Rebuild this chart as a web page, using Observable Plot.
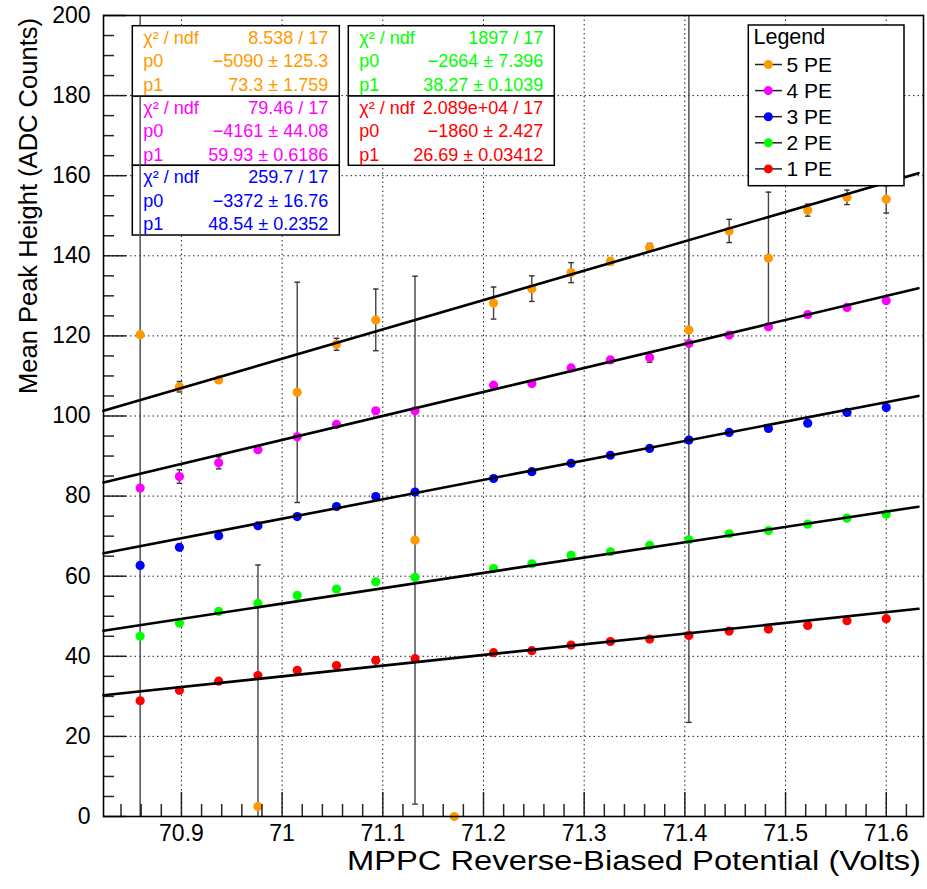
<!DOCTYPE html>
<html><head><meta charset="utf-8">
<script src="https://cdn.jsdelivr.net/npm/d3@7"></script>
<script src="https://cdn.jsdelivr.net/npm/@observablehq/plot@0.6"></script>
<style>body{margin:0;background:#fff} svg{display:block}</style>
</head><body><div id="chart"></div>
<script>
// ---- data ----
const voltage = [70.859, 70.898, 70.937, 70.976, 71.015, 71.054, 71.093, 71.132, 71.171, 71.210,
                 71.248, 71.287, 71.326, 71.365, 71.404, 71.444, 71.483, 71.522, 71.561, 71.600];
const pe5    = [120.3, 107.3, 109.0, 2.5, 105.9, 117.9, 124.0, 69.0, 0, 128.2,
                131.8, 135.8, 138.6, 142.1, 121.5, 146.2, 139.4, 151.4, 154.6, 154.1];
const pe5Err = [125, 1.3, 0.6, 60.3, 27.5, 1.5, 7.7, 65.9, 0, 4.0,
                3.2, 2.5, 0.8, 1.0, 98, 2.9, 16.5, 1.5, 1.8, 3.4];
const pe4    = [82.0, 84.9, 88.3, 91.6, 94.8, 97.9, 101.3, 101.3, null, 107.7,
                108.1, 112.0, 114.0, 114.6, 118.1, 120.2, 122.3, 125.3, 127.1, 128.8];
const pe4Err = [0.5, 1.7, 1.5, 0.4, 0.4, 0.4, 0.4, 0.4, null, 0.4,
                0.4, 0.4, 0.4, 1.2, 0.4, 0.4, 0.4, 0.4, 0.4, 0.4];
const pe3    = [62.7, 67.2, 70.1, 72.6, 74.9, 77.4, 79.9, 81.0, null, 84.4,
                86.1, 88.2, 90.2, 91.9, 94.0, 95.9, 96.9, 98.2, 100.9, 102.1];
const pe3Err = [0.3, 0.3, 0.2, 0.2, 0.2, 0.2, 0.2, 0.2, null, 0.2,
                0.2, 0.2, 0.2, 0.2, 0.2, 0.2, 0.2, 0.2, 0.2, 0.2];
const pe2    = [45.0, 48.3, 51.2, 53.2, 55.2, 56.8, 58.6, 59.7, null, 61.9,
                63.1, 65.2, 66.1, 67.7, 69.1, 70.6, 71.4, 73.0, 74.5, 75.5];
const pe2Err = [0.1, 0.1, 0.1, 0.1, 0.1, 0.1, 0.1, 0.1, null, 0.1,
                0.1, 0.1, 0.1, 0.1, 0.1, 0.1, 0.1, 0.1, 0.1, 0.1];
const pe1    = [28.9, 31.5, 33.8, 35.2, 36.5, 37.7, 39.0, 39.4, null, 40.9,
                41.4, 42.8, 43.7, 44.3, 45.2, 46.3, 46.8, 47.7, 48.9, 49.4];
const pe1Err = [0.05, 0.05, 0.05, 0.05, 0.05, 0.05, 0.05, 0.05, null, 0.05,
                0.05, 0.05, 0.05, 0.05, 0.05, 0.05, 0.05, 0.05, 0.05, 0.05];

const seriesNames  = ["5 PE", "4 PE", "3 PE", "2 PE", "1 PE"];
const seriesColors = ["#ff9900", "#ff00ff", "#0000ff", "#00ff00", "#ff0000"];
const chi2Text = ["8.538 / 17", "79.46 / 17", "259.7 / 17", "1897 / 17", "2.089e+04 / 17"];
const p0Text   = ["\u22125090 \u00b1 125.3", "\u22124161 \u00b1 44.08", "\u22123372 \u00b1 16.76", "\u22122664 \u00b1 7.396", "\u22121860 \u00b1 2.427"];
const p1Text   = ["73.3 \u00b1 1.759", "59.93 \u00b1 0.6186", "48.54 \u00b1 0.2352", "38.27 \u00b1 0.1039", "26.69 \u00b1 0.03412"];
const p0 = [-5090, -4161, -3372, -2664, -1860];
const p1 = [73.3, 59.93, 48.54, 38.27, 26.69];
const fitRange = [70.8226, 71.632];

const xDomain = [70.8226, 71.637];
const yDomain = [0, 200];
const xTickLabels = ["70.9", "71", "71.1", "71.2", "71.3", "71.4", "71.5", "71.6"];
const yTickLabels = ["0", "20", "40", "60", "80", "100", "120", "140", "160", "180", "200"];
const xTitle = "MPPC Reverse-Biased Potential (Volts)";
const yTitle = "Mean Peak Height (ADC Counts)";
const legendTitle = "Legend";

// ---- build tables ----
const values = [pe5, pe4, pe3, pe2, pe1];
const errors = [pe5Err, pe4Err, pe3Err, pe2Err, pe1Err];
const points = [];
values.forEach((arr, s) => arr.forEach((v, i) => {
  if (v != null) points.push({x: voltage[i], y: v, err: errors[s][i], series: seriesNames[s], color: seriesColors[s]});
}));
const errPts = points.filter(d => d.err > 0);
const caps = errPts.flatMap(d => [{x: d.x, y: d.y - d.err}, {x: d.x, y: d.y + d.err}]);
const fits = [];
seriesNames.forEach((n, s) => fitRange.forEach(x => fits.push({x, y: p0[s] + p1[s] * x, series: n})));

const xMajor = xTickLabels.map(Number);
const yMajor = yTickLabels.map(Number);
const xMinor = d3.range(70.84, 71.63, 0.02).map(v => +v.toFixed(2)).filter(v => !xMajor.some(m => Math.abs(m - v) < 1e-6));
const yMinor = d3.range(0, 201, 5).filter(v => v % 20 !== 0);

const FONT = "'Liberation Sans', Arial, Helvetica, sans-serif";
const W = 927, H = 889, ML = 103, MR = 4, MT = 15, MB = 73;
const PW = W - ML - MR, PH = H - MT - MB;

// ---- annotation boxes (fit statistics & legend) ----
const boxGeom = [
  {x: 132.3, y: 25.7, w: 207, h: 70.3},
  {x: 132.3, y: 96.0, w: 207, h: 69.3},
  {x: 132.3, y: 165.3, w: 207, h: 69.7},
  {x: 348.3, y: 25.7, w: 206, h: 70.3},
  {x: 348.3, y: 96.0, w: 206, h: 69.3}
];
function statBoxes(which) {
  return () => {
    const g = d3.create("svg:g").attr("font-family", FONT);
    for (const s of which) {
      const b = boxGeom[s];
      g.append("rect").attr("x", b.x).attr("y", b.y).attr("width", b.w).attr("height", b.h)
        .attr("fill", "#fff").attr("stroke", "#000").attr("stroke-width", 1.5);
      const rows = [["\u03c7\u00b2 / ndf", chi2Text[s]], ["p0", p0Text[s]], ["p1", p1Text[s]]];
      rows.forEach(([lab, val], r) => {
        const cy = b.y + 11.5 + r * 23.5;
        g.append("text").attr("x", b.x + 11).attr("y", cy).attr("dy", "0.35em").attr("text-anchor", "start")
          .attr("font-size", 18).attr("fill", seriesColors[s]).text(lab);
        g.append("text").attr("x", b.x + b.w - 11).attr("y", cy).attr("dy", "0.35em")
          .attr("text-anchor", "end").attr("font-size", 18).attr("fill", seriesColors[s]).text(val);
      });
    }
    return g.node();
  };
}
function legendBox() {
  const g = d3.create("svg:g").attr("font-family", FONT).attr("text-anchor", "start");
  g.append("rect").attr("x", 748.3).attr("y", 25).attr("width", 155.7).attr("height", 160.7)
    .attr("fill", "#fff").attr("stroke", "#000").attr("stroke-width", 1.5);
  g.append("text").attr("x", 753.5).attr("y", 44).attr("font-size", 21.5).attr("fill", "#000").text(legendTitle);
  seriesNames.forEach((n, s) => {
    const cy = 64.5 + s * 26.1;
    g.append("line").attr("x1", 755).attr("x2", 782).attr("y1", cy).attr("y2", cy)
      .attr("stroke", "#222").attr("stroke-width", 1.5);
    g.append("circle").attr("cx", 768.3).attr("cy", cy).attr("r", 4.5).attr("fill", seriesColors[s]);
    g.append("text").attr("x", 786.5).attr("y", cy).attr("dy", "0.36em").attr("font-size", 21)
      .attr("fill", "#000").text(n);
  });
  return g.node();
}
function axisTitles() {
  const g = d3.create("svg:g").attr("font-family", FONT).attr("fill", "#000");
  g.append("text").attr("x", 347).attr("y", 870).attr("text-anchor", "start")
    .attr("font-size", 27).attr("textLength", 574).attr("lengthAdjust", "spacingAndGlyphs").text(xTitle);
  g.append("text").attr("transform", "translate(37,394) rotate(-90)").attr("text-anchor", "start")
    .attr("font-size", 26.5).attr("textLength", 376).attr("lengthAdjust", "spacingAndGlyphs").text(yTitle);
  return g.node();
}

const capSymbol = {draw(ctx, size) { const r = Math.sqrt(size / Math.PI); ctx.moveTo(-r, 0); ctx.lineTo(r, 0); }};

const chart = Plot.plot({
  width: W, height: H,
  marginLeft: ML, marginRight: MR, marginTop: MT, marginBottom: MB,
  style: {fontFamily: FONT, fontSize: "23px", color: "#000", background: "#fff"},
  x: {domain: xDomain, axis: null},
  y: {domain: yDomain, axis: null},
  marks: [
    Plot.gridX(xMajor, {stroke: "#222", strokeOpacity: 1, strokeWidth: 1, strokeDasharray: "1.5,3"}),
    Plot.gridY(yMajor.filter(v => v > 0 && v < 200), {stroke: "#222", strokeOpacity: 1, strokeWidth: 1, strokeDasharray: "1.5,3"}),
    statBoxes([1, 2, 3, 4]),
    Plot.ruleX(errPts, {x: "x", y1: d => d.y - d.err, y2: d => d.y + d.err, stroke: "#444", strokeWidth: 1.4, clip: true}),
    Plot.dot(caps, {x: "x", y: "y", r: 2.8, symbol: capSymbol, stroke: "#333", strokeWidth: 1.4, fill: "none", clip: true}),
    Plot.dot(points, {x: "x", y: "y", r: 4.6, fill: "color", stroke: "none"}),
    Plot.line(fits, {x: "x", y: "y", z: "series", stroke: "#000", strokeWidth: 2.6}),
    Plot.tickY(yMajor, {y: d => d, insetRight: PW - 23, stroke: "#000", strokeWidth: 1.5, strokeOpacity: 0.85}),
    Plot.tickY(yMinor, {y: d => d, insetRight: PW - 11, stroke: "#000", strokeWidth: 1.5, strokeOpacity: 0.85}),
    Plot.tickX(xMajor, {x: d => d, insetTop: PH - 24, stroke: "#000", strokeWidth: 1.5, strokeOpacity: 0.85}),
    Plot.tickX(xMinor, {x: d => d, insetTop: PH - 12, stroke: "#000", strokeWidth: 1.5, strokeOpacity: 0.85}),
    Plot.frame({stroke: "#000", strokeWidth: 1.6}),
    Plot.axisY(yMajor, {tickSize: 0, tickPadding: 13, fontSize: 23, tickFormat: d => yTickLabels[yMajor.indexOf(d)], label: null}),
    Plot.axisX(xMajor, {tickSize: 0, tickPadding: 8, fontSize: 23, tickFormat: d => xTickLabels[xMajor.indexOf(d)], label: null}),
    axisTitles,
    statBoxes([0]),
    legendBox
  ]
});
document.getElementById("chart").appendChild(chart);
</script>
</body></html>
